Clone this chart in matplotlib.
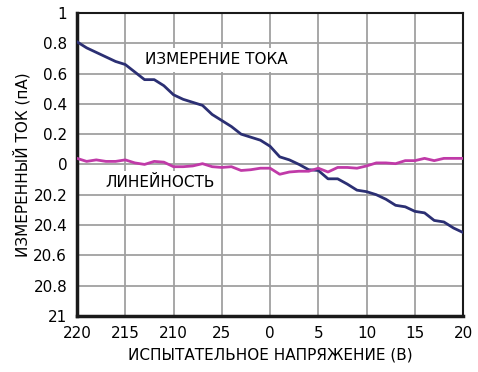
import matplotlib
matplotlib.use("Agg")
import matplotlib.pyplot as plt

# test voltage, V
voltage = [-20, -19, -18, -17, -16, -15, -14, -13, -12, -11, -10, -9, -8, -7, -6, -5, -4, -3, -2, -1, 0,
           1, 2, 3, 4, 5, 6, 7, 8, 9, 10, 11, 12, 13, 14, 15, 16, 17, 18, 19, 20]
# measured current, pA
current = [0.81, 0.77, 0.74, 0.71, 0.68, 0.66, 0.61, 0.56, 0.56, 0.52, 0.46, 0.43, 0.41, 0.39, 0.33,
           0.29, 0.25, 0.20, 0.18, 0.16, 0.12, 0.05, 0.03, 0.00, -0.035, -0.04, -0.095, -0.095, -0.13,
           -0.17, -0.18, -0.20, -0.23, -0.27, -0.28, -0.31, -0.32, -0.37, -0.38, -0.42, -0.45]
# linearity error
linearity = [0.04, 0.02, 0.03, 0.02, 0.02, 0.03, 0.01, 0.00, 0.02, 0.015, -0.015, -0.015, -0.01, 0.005,
             -0.015, -0.02, -0.015, -0.04, -0.035, -0.025, -0.025, -0.065, -0.05, -0.045, -0.045, -0.025,
             -0.05, -0.02, -0.02, -0.025, -0.01, 0.01, 0.01, 0.005, 0.025, 0.025, 0.04, 0.025, 0.04, 0.04, 0.04]

xticks = [-20, -15, -10, -5, 0, 5, 10, 15, 20]
xticklabels = ["220", "215", "210", "25", "0", "5", "10", "15", "20"]
yticks = [1, 0.8, 0.6, 0.4, 0.2, 0, -0.2, -0.4, -0.6, -0.8, -1]
yticklabels = ["1", "0.8", "0.6", "0.4", "0.2", "0", "20.2", "20.4", "20.6", "20.8", "21"]

fig = plt.figure(figsize=(4.78, 3.72), dpi=100)
ax = fig.add_axes([0.161, 0.151, 0.808, 0.814])

ax.plot(voltage, current, color="#2b2f73", lw=2, zorder=3)
ax.plot(voltage, linearity, color="#c03aa8", lw=2, zorder=3)

ax.set_xlim(-20, 20)
ax.set_ylim(-1, 1)
ax.set_xticks(xticks)
ax.set_xticklabels(xticklabels)
ax.set_yticks(yticks)
ax.set_yticklabels(yticklabels)
ax.grid(color="#a0a0a0", lw=1.3)
ax.set_axisbelow(True)
ax.tick_params(length=0, labelsize=11)
ax.tick_params(axis="x", pad=7)
ax.tick_params(axis="y", pad=7)

for s in ["top", "right"]:
    ax.spines[s].set_linewidth(1.5)
for s in ["left", "bottom"]:
    ax.spines[s].set_linewidth(2.5)
ax.spines[:].set_color("#1a1a1a")

box = dict(facecolor="white", edgecolor="none", pad=3)
ax.text(-5.6, 0.69, "ИЗМЕРЕНИЕ ТОКА", ha="center", va="center", fontsize=11, bbox=box, zorder=4)
ax.text(-11.4, -0.12, "ЛИНЕЙНОСТЬ", ha="center", va="center", fontsize=11, bbox=box, zorder=4)

ax.set_xlabel("ИСПЫТАТЕЛЬНОЕ НАПРЯЖЕНИЕ (В)", fontsize=11, labelpad=5)
ax.set_ylabel("ИЗМЕРЕННЫЙ ТОК (пА)", fontsize=11, labelpad=2)

fig.savefig("out.png", dpi=100)
